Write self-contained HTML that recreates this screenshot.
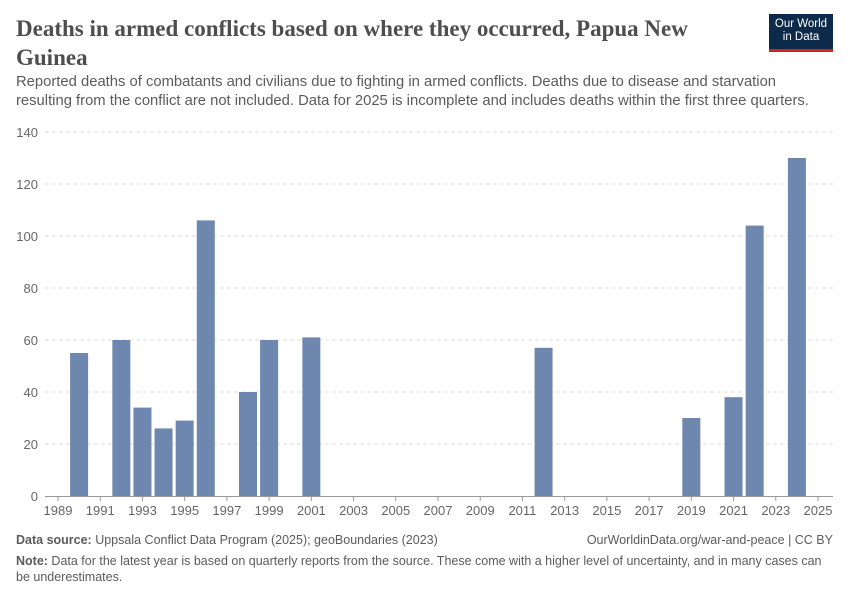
<!DOCTYPE html>
<html><head><meta charset="utf-8"><style>
body{margin:0;width:850px;height:600px;background:#fff;font-family:"Liberation Sans",sans-serif;position:relative;overflow:hidden}
.t{position:absolute;left:16px;top:14px;font-family:"Liberation Serif",serif;font-size:23px;color:#4e4e4e;line-height:29px;width:740px;font-weight:bold}
.s{position:absolute;left:16px;top:73px;font-size:14.8px;color:#5b5b5b;line-height:19px;width:805px}
.logo{position:absolute;left:769px;top:14px;width:64px;height:38px;background:#0d2a4b;color:#fff;font-size:11.5px;line-height:13px;text-align:center;padding-top:4px;box-sizing:border-box;border-bottom:3px solid #ce261e}
.f{position:absolute;font-size:12.5px;color:#5b5b5b}
</style></head><body>
<div class="t">Deaths in armed conflicts based on where they occurred, Papua New Guinea</div>
<div class="s">Reported deaths of combatants and civilians due to fighting in armed conflicts. Deaths due to disease and starvation resulting from the conflict are not included. Data for 2025 is incomplete and includes deaths within the first three quarters.</div>
<div class="logo">Our World<br>in Data</div>
<svg id="c" width="850" height="600" style="position:absolute;left:0;top:0"></svg>
<div class="f" style="left:16px;top:533px"><b>Data source:</b> Uppsala Conflict Data Program (2025); geoBoundaries (2023)</div>
<div class="f" style="right:17px;top:533px">OurWorldinData.org/war-and-peace | CC BY</div>
<div class="f" style="left:16px;top:553px;width:810px;line-height:16px"><b>Note:</b> Data for the latest year is based on quarterly reports from the source. These come with a higher level of uncertainty, and in many cases can be underestimates.</div>
<script>
const years=[1990,1992,1993,1994,1995,1996,1998,1999,2001,2012,2019,2021,2022,2024];
const deaths=[55,60,34,26,29,106,40,60,61,57,30,38,104,130];
const yTicks=[0,20,40,60,80,100,120,140];
const xTicks=[1989,1991,1993,1995,1997,1999,2001,2003,2005,2007,2009,2011,2013,2015,2017,2019,2021,2023,2025];
const ns="http://www.w3.org/2000/svg",svg=document.getElementById('c');
const x=v=>58+(v-1989)*(818-58)/36, y=v=>496-v*(496-132)/140;
function mk(t,a){const e=document.createElementNS(ns,t);for(const k in a)e.setAttribute(k,a[k]);svg.appendChild(e);return e;}
yTicks.forEach(v=>{
 if(v>0){const g=mk('line',{x1:45,x2:833,y1:y(v),y2:y(v),stroke:'#ddd','stroke-dasharray':'4,3'});
 
 }
 const t=mk('text',{x:38,y:y(v)+5,'text-anchor':'end','font-size':13,fill:'#666','font-family':'Liberation Sans'});t.textContent=v;
 
 
});
const ax=mk('line',{x1:45,x2:833,y1:496.5,y2:496.5,stroke:'#999'});


xTicks.forEach(v=>{
 const tk=mk('line',{x1:x(v),x2:x(v),y1:496,y2:501,stroke:'#999'});
 
 
 const t=mk('text',{x:x(v),y:515,'text-anchor':'middle','font-size':13,fill:'#666','font-family':'Liberation Sans'});t.textContent=v;
 
 
});
years.forEach((yr,i)=>{
 const b=mk('rect',{x:x(yr)-9,y:y(deaths[i]),width:18,height:496-y(deaths[i]),fill:'#6d87ae'});
 
 
});
</script>
</body></html>
